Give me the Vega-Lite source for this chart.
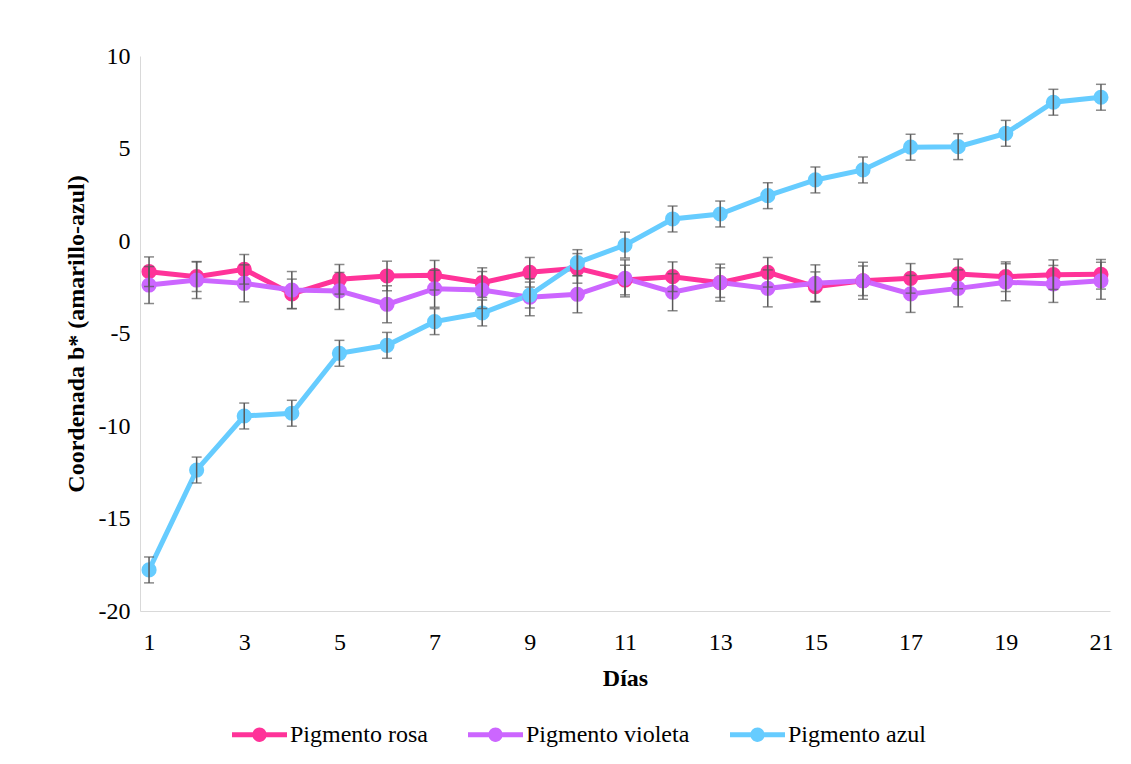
{
  "$schema": "https://vega.github.io/schema/vega-lite/v6.json",
  "autosize": {"type": "none"},
  "width": 970,
  "height": 555,
  "padding": {"left": 140, "top": 56, "right": 21, "bottom": 153},
  "background": "white",
  "config": {
    "view": {"stroke": null},
    "font": "Liberation Serif",
    "axis": {"grid": false, "ticks": false, "domainColor": "#D9D9D9", "domainWidth": 1, "labelFont": "Liberation Serif", "labelFontSize": 24, "labelColor": "#000000", "titleFont": "Liberation Serif", "titleFontSize": 24, "titleFontWeight": "bold", "titleColor": "#000000"}
  },
  "data": {"values": [
    {"day":1,"series":"Pigmento rosa","b":-1.66,"err":0.8},
    {"day":2,"series":"Pigmento rosa","b":-1.93,"err":0.8},
    {"day":3,"series":"Pigmento rosa","b":-1.53,"err":0.8},
    {"day":4,"series":"Pigmento rosa","b":-2.86,"err":0.8},
    {"day":5,"series":"Pigmento rosa","b":-2.07,"err":0.8},
    {"day":6,"series":"Pigmento rosa","b":-1.89,"err":0.8},
    {"day":7,"series":"Pigmento rosa","b":-1.85,"err":0.8},
    {"day":8,"series":"Pigmento rosa","b":-2.25,"err":0.8},
    {"day":9,"series":"Pigmento rosa","b":-1.69,"err":0.8},
    {"day":10,"series":"Pigmento rosa","b":-1.48,"err":0.8},
    {"day":11,"series":"Pigmento rosa","b":-2.11,"err":0.8},
    {"day":12,"series":"Pigmento rosa","b":-1.93,"err":0.8},
    {"day":13,"series":"Pigmento rosa","b":-2.25,"err":0.8},
    {"day":14,"series":"Pigmento rosa","b":-1.69,"err":0.8},
    {"day":15,"series":"Pigmento rosa","b":-2.47,"err":0.8},
    {"day":16,"series":"Pigmento rosa","b":-2.15,"err":0.8},
    {"day":17,"series":"Pigmento rosa","b":-2.02,"err":0.8},
    {"day":18,"series":"Pigmento rosa","b":-1.78,"err":0.8},
    {"day":19,"series":"Pigmento rosa","b":-1.93,"err":0.8},
    {"day":20,"series":"Pigmento rosa","b":-1.82,"err":0.8},
    {"day":21,"series":"Pigmento rosa","b":-1.80,"err":0.8},
    {"day":1,"series":"Pigmento violeta","b":-2.38,"err":1.0},
    {"day":2,"series":"Pigmento violeta","b":-2.11,"err":1.0},
    {"day":3,"series":"Pigmento violeta","b":-2.29,"err":1.0},
    {"day":4,"series":"Pigmento violeta","b":-2.65,"err":1.0},
    {"day":5,"series":"Pigmento violeta","b":-2.70,"err":1.0},
    {"day":6,"series":"Pigmento violeta","b":-3.42,"err":1.0},
    {"day":7,"series":"Pigmento violeta","b":-2.58,"err":1.0},
    {"day":8,"series":"Pigmento violeta","b":-2.65,"err":1.0},
    {"day":9,"series":"Pigmento violeta","b":-3.04,"err":1.0},
    {"day":10,"series":"Pigmento violeta","b":-2.88,"err":1.0},
    {"day":11,"series":"Pigmento violeta","b":-2.02,"err":1.0},
    {"day":12,"series":"Pigmento violeta","b":-2.77,"err":1.0},
    {"day":13,"series":"Pigmento violeta","b":-2.25,"err":1.0},
    {"day":14,"series":"Pigmento violeta","b":-2.56,"err":1.0},
    {"day":15,"series":"Pigmento violeta","b":-2.29,"err":1.0},
    {"day":16,"series":"Pigmento violeta","b":-2.15,"err":1.0},
    {"day":17,"series":"Pigmento violeta","b":-2.86,"err":1.0},
    {"day":18,"series":"Pigmento violeta","b":-2.56,"err":1.0},
    {"day":19,"series":"Pigmento violeta","b":-2.23,"err":1.0},
    {"day":20,"series":"Pigmento violeta","b":-2.32,"err":1.0},
    {"day":21,"series":"Pigmento violeta","b":-2.15,"err":1.0},
    {"day":1,"series":"Pigmento azul","b":-17.78,"err":0.7},
    {"day":2,"series":"Pigmento azul","b":-12.38,"err":0.7},
    {"day":3,"series":"Pigmento azul","b":-9.46,"err":0.7},
    {"day":4,"series":"Pigmento azul","b":-9.31,"err":0.7},
    {"day":5,"series":"Pigmento azul","b":-6.07,"err":0.7},
    {"day":6,"series":"Pigmento azul","b":-5.64,"err":0.7},
    {"day":7,"series":"Pigmento azul","b":-4.36,"err":0.7},
    {"day":8,"series":"Pigmento azul","b":-3.89,"err":0.7},
    {"day":9,"series":"Pigmento azul","b":-2.92,"err":0.7},
    {"day":10,"series":"Pigmento azul","b":-1.17,"err":0.7},
    {"day":11,"series":"Pigmento azul","b":-0.22,"err":0.7},
    {"day":12,"series":"Pigmento azul","b":1.19,"err":0.7},
    {"day":13,"series":"Pigmento azul","b":1.46,"err":0.7},
    {"day":14,"series":"Pigmento azul","b":2.45,"err":0.7},
    {"day":15,"series":"Pigmento azul","b":3.30,"err":0.7},
    {"day":16,"series":"Pigmento azul","b":3.84,"err":0.7},
    {"day":17,"series":"Pigmento azul","b":5.07,"err":0.7},
    {"day":18,"series":"Pigmento azul","b":5.10,"err":0.7},
    {"day":19,"series":"Pigmento azul","b":5.82,"err":0.7},
    {"day":20,"series":"Pigmento azul","b":7.50,"err":0.7},
    {"day":21,"series":"Pigmento azul","b":7.77,"err":0.7}
  ]},
  "encoding": {
    "x": {"field": "day", "type": "quantitative", "scale": {"domain": [0.81, 21.19], "nice": false, "zero": false},
      "axis": {"title": "Días", "values": [1,3,5,7,9,11,13,15,17,19,21], "labelPadding": 19, "titlePadding": 12, "labelFlush": false}},
    "y": {"field": "b", "type": "quantitative", "scale": {"domain": [-20, 10], "nice": false, "zero": false},
      "axis": {"title": "Coordenada b* (amarillo-azul)", "values": [-20,-15,-10,-5,0,5,10], "labelPadding": 10, "titlePadding": 10, "labelExpr": "toString(datum.value)"}}
  },
  "layer": [
    {
      "mark": {"type": "line", "strokeWidth": 5},
      "encoding": {
        "color": {"field": "series", "type": "nominal",
          "scale": {"domain": ["Pigmento rosa", "Pigmento violeta", "Pigmento azul"], "range": ["#FF3399", "#CC66FF", "#66CCFF"]},
          "legend": {"title": null, "orient": "none", "direction": "horizontal", "legendX": 92, "legendY": 651,
            "symbolType": "M -1 -0.09 L 1 -0.09 L 1 0.09 L -1 0.09 Z M 0.26 0 A 0.26 0.26 0 1 1 -0.26 0 A 0.26 0.26 0 1 1 0.26 0 Z",
            "symbolSize": 3025, "labelFont": "Liberation Serif", "labelFontSize": 24, "labelLimit": 400, "labelColor": "#000000", "labelOffset": 3, "columnPadding": 40,
            "encode": {"symbols": {"update": {"fill": {"scale": "color", "field": "value"}, "stroke": {"value": "transparent"}, "strokeWidth": {"value": 0}, "opacity": {"value": 1}}}}}
        }
      }
    },
    {
      "mark": {"type": "point", "filled": true, "size": 230, "opacity": 1},
      "encoding": {
        "color": {"field": "series", "type": "nominal",
          "scale": {"domain": ["Pigmento rosa", "Pigmento violeta", "Pigmento azul"], "range": ["#FF3399", "#CC66FF", "#66CCFF"]},
          "legend": {"title": null, "orient": "none", "direction": "horizontal", "legendX": 92, "legendY": 651,
            "symbolType": "M -1 -0.09 L 1 -0.09 L 1 0.09 L -1 0.09 Z M 0.26 0 A 0.26 0.26 0 1 1 -0.26 0 A 0.26 0.26 0 1 1 0.26 0 Z",
            "symbolSize": 3025, "labelFont": "Liberation Serif", "labelFontSize": 24, "labelLimit": 400, "labelColor": "#000000", "labelOffset": 3, "columnPadding": 40,
            "encode": {"symbols": {"update": {"fill": {"scale": "color", "field": "value"}, "stroke": {"value": "transparent"}, "strokeWidth": {"value": 0}, "opacity": {"value": 1}}}}}
        }
      }
    },
    {
      "mark": {"type": "errorbar", "color": "#595959", "thickness": 1.5, "ticks": {"size": 10, "color": "#595959", "strokeWidth": 1.5}},
      "encoding": {
        "yError": {"field": "err"}
      }
    }
  ]
}
